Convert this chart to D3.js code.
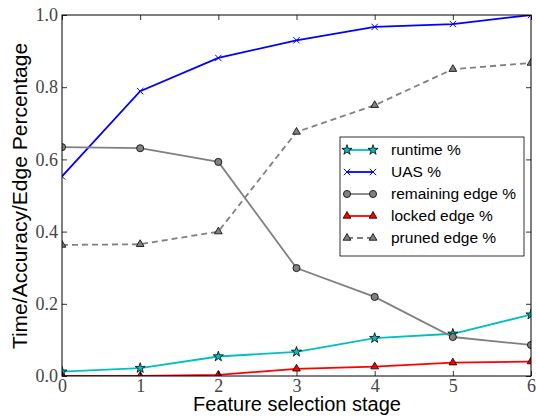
<!DOCTYPE html>
<html>
<head>
<meta charset="utf-8">
<script src="https://cdn.jsdelivr.net/npm/d3@7"></script>
<style>
  body { margin: 0; background: #fff; }
  svg { display: block; }
</style>
</head>
<body>
<svg id="chart" width="536" height="416"></svg>
<script>
// data
const stages = [0, 1, 2, 3, 4, 5, 6];
const runtime = [0.012, 0.022, 0.054, 0.067, 0.105, 0.117, 0.170];
const uas = [0.553, 0.789, 0.881, 0.930, 0.967, 0.975, 1.000];
const remaining = [0.634, 0.631, 0.593, 0.299, 0.219, 0.108, 0.086];
const locked = [0.000, 0.000, 0.003, 0.020, 0.026, 0.037, 0.040];
const pruned = [0.363, 0.365, 0.400, 0.676, 0.750, 0.850, 0.867];
const yTicks = [0.0, 0.2, 0.4, 0.6, 0.8, 1.0];
const seriesNames = ["runtime %", "UAS %", "remaining edge %", "locked edge %", "pruned edge %"];

const svg = d3.select("#chart");
const pLeft = 62, pRight = 531, pTop = 15, pBottom = 376;

const x = d3.scaleLinear().domain([0, 6]).range([pLeft, pRight]);
const y = d3.scaleLinear().domain([0, 1]).range([pBottom, pTop]);

// series style
const series = [
  { name: seriesNames[0], values: runtime, color: "#00bfbf", marker: "star", mfill: "#00bfbf", dash: null },
  { name: seriesNames[1], values: uas, color: "#0000ff", marker: "x", mfill: "none", dash: null },
  { name: seriesNames[2], values: remaining, color: "#808080", marker: "circle", mfill: "#808080", dash: null },
  { name: seriesNames[3], values: locked, color: "#ff0000", marker: "triangle", mfill: "#ff0000", dash: null },
  { name: seriesNames[4], values: pruned, color: "#808080", marker: "triangle", mfill: "#808080", dash: "6,4" }
];

svg.append("defs").append("clipPath").attr("id", "clip")
  .append("rect")
  .attr("x", pLeft).attr("y", pTop)
  .attr("width", pRight - pLeft).attr("height", pBottom - pTop);

const symbolOf = {
  star: d3.symbol().type(d3.symbolStar).size(32),
  circle: d3.symbol().type(d3.symbolCircle).size(40),
  triangle: d3.symbol().type(d3.symbolTriangle).size(26)
};

function drawMarker(g, s, px, py) {
  if (s.marker === "x") {
    const r = 3.2;
    g.append("path")
      .attr("d", `M${px - r},${py - r}L${px + r},${py + r}M${px - r},${py + r}L${px + r},${py - r}`)
      .attr("stroke", s.color).attr("stroke-width", 1).attr("fill", "none");
  } else {
    g.append("path")
      .attr("d", symbolOf[s.marker]())
      .attr("transform", `translate(${px},${py})`)
      .attr("fill", s.mfill)
      .attr("stroke", "#000").attr("stroke-width", 0.8);
  }
}

const line = d3.line().x((d, i) => x(stages[i])).y(d => y(d));

const plot = svg.append("g").attr("clip-path", "url(#clip)");
series.forEach(s => {
  plot.append("path")
    .datum(s.values)
    .attr("d", line)
    .attr("fill", "none")
    .attr("stroke", s.color)
    .attr("stroke-width", 1.8)
    .attr("stroke-dasharray", s.dash);
  s.values.forEach((v, i) => drawMarker(plot, s, x(stages[i]), y(v)));
});

// axes with inward ticks on all four sides
const tickFont = "'Liberation Serif', 'DejaVu Serif', serif";
const axB = svg.append("g").attr("transform", `translate(0,${pBottom})`)
  .call(d3.axisBottom(x).tickValues(stages).tickSize(-5).tickPadding(3).tickFormat(d3.format("d")));
const axT = svg.append("g").attr("transform", `translate(0,${pTop})`)
  .call(d3.axisTop(x).tickValues(stages).tickSize(-5).tickFormat(""));
const axL = svg.append("g").attr("transform", `translate(${pLeft},0)`)
  .call(d3.axisLeft(y).tickValues(yTicks).tickSize(-5).tickPadding(4).tickFormat(d3.format(".1f")));
const axR = svg.append("g").attr("transform", `translate(${pRight},0)`)
  .call(d3.axisRight(y).tickValues(yTicks).tickSize(-5).tickFormat(""));

[axB, axT, axL, axR].forEach(a => {
  a.select(".domain").remove();
  a.selectAll(".tick line").attr("stroke", "#000").attr("stroke-width", 0.8);
  a.selectAll("text").attr("font-family", tickFont).attr("font-size", 18).attr("fill", "#444");
});

svg.append("rect")
  .attr("x", pLeft).attr("y", pTop)
  .attr("width", pRight - pLeft).attr("height", pBottom - pTop)
  .attr("fill", "none").attr("stroke", "#000").attr("stroke-width", 1);

// axis titles
svg.append("text")
  .attr("x", 297).attr("y", 411)
  .attr("text-anchor", "middle")
  .attr("font-family", "'Liberation Sans', Arial, sans-serif")
  .attr("font-size", 20)
  .text("Feature selection stage");

svg.append("text")
  .attr("transform", `translate(27,196) rotate(-90)`)
  .attr("text-anchor", "middle")
  .attr("font-family", "'Liberation Sans', Arial, sans-serif")
  .attr("font-size", 21)
  .text("Time/Accuracy/Edge Percentage");

// legend
const lg = svg.append("g");
lg.append("rect")
  .attr("x", 340).attr("y", 137).attr("width", 184).attr("height", 119)
  .attr("fill", "#fff").attr("stroke", "#000").attr("stroke-width", 0.8);
series.forEach((s, i) => {
  const ly = 150 + i * 22;
  lg.append("line")
    .attr("x1", 347).attr("x2", 373).attr("y1", ly).attr("y2", ly)
    .attr("stroke", s.color).attr("stroke-width", 1.8)
    .attr("stroke-dasharray", s.dash);
  drawMarker(lg, s, 347, ly);
  drawMarker(lg, s, 373, ly);
  lg.append("text")
    .attr("x", 391).attr("y", ly + 5)
    .attr("font-family", "'Liberation Sans', Arial, sans-serif")
    .attr("font-size", 15.5)
    .text(s.name);
});
</script>
</body>
</html>
